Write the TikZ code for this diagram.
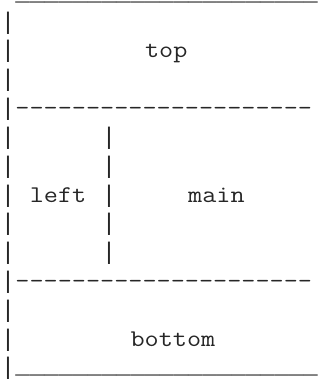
\documentclass[tikz,border=0pt]{standalone}
\usepackage{fontspec}
\newfontfamily\mono{Latin Modern Mono}[FakeStretch=1.143]
\newfontfamily\lmono{Liberation Mono}
\tikzset{
  asc/.style={anchor=base west, inner sep=0pt, outer sep=0pt, font=\mono\fontsize{24pt}{28.8pt}\selectfont, text=black!85},
  rule/.style={asc, font=\lmono\fontsize{24pt}{28.8pt}\selectfont},
}
\newcommand{\cx}[1]{1pt+14.4pt*#1}
\newcommand{\ry}[1]{-0.4pt-28.8pt*#1}
\newcommand{\dsh}{-\kern0pt}
\newcommand{\dline}{\dsh\dsh\dsh\dsh\dsh\dsh\dsh\dsh\dsh\dsh\dsh\dsh\dsh\dsh\dsh\dsh\dsh\dsh\dsh\dsh\dsh}
\newcommand{\uline}{\_\_\_\_\_\_\_\_\_\_\_\_\_\_\_\_\_\_\_\_\_}
\begin{document}
\begin{tikzpicture}[x=1pt,y=1pt]
\useasboundingbox (0,0) rectangle (320,-379);
% top edge
\node[rule, text height=0pt] (topedge) at ({\cx{1}},{-0.2pt}) {\uline};
% left border pipes
\foreach \r in {1,...,13} {
  \node[rule] (lp\r) at ({\cx{0}},{\ry{\r}}) {|};
}
% dashed separators
\node[asc] (sep1) at ({\cx{1}},{\ry{4}}) {\dline};
\node[asc] (sep2) at ({\cx{1}},{\ry{10}}) {\dline};
% inner pipes
\foreach \r in {5,...,9} {
  \node[rule] (ip\r) at ({\cx{7}},{\ry{\r}}) {|};
}
% bottom edge
\node[rule] (botedge) at ({\cx{1}},{\ry{13}+1pt}) {\uline};
% labels
\node[asc] (top) at ({\cx{10}},{\ry{2}}) {top};
\node[asc] (left) at ({\cx{2}},{\ry{7}}) {left};
\node[asc] (main) at ({\cx{13}},{\ry{7}}) {main};
\node[asc] (bottom) at ({\cx{9}},{\ry{12}}) {bottom};
\end{tikzpicture}
\end{document}
